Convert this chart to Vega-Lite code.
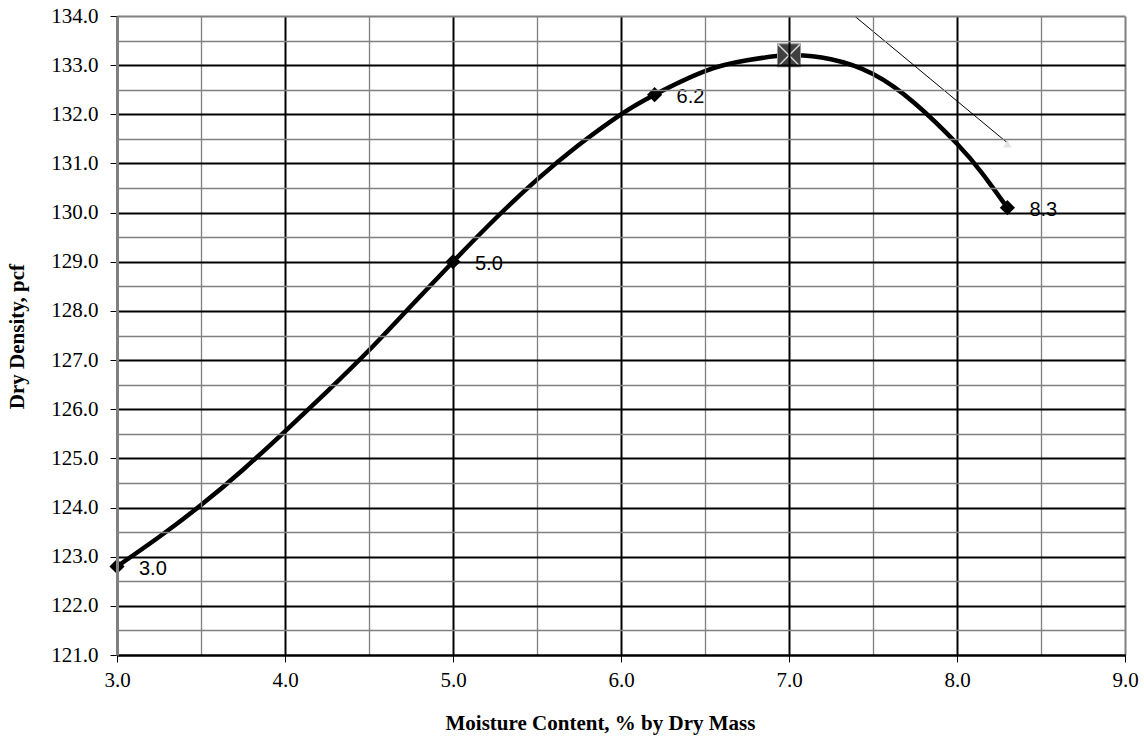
{
  "$schema": "https://vega.github.io/schema/vega-lite/v6.json",
  "width": 1008,
  "height": 639,
  "autosize": {"type": "none"},
  "padding": {"left": 117, "top": 16, "right": 19, "bottom": 83},
  "background": "white",
  "config": {"view": {"stroke": null}},
  "datasets": {
    "curve": [
      {"x": 3.0, "y": 122.8}, {"x": 3.25, "y": 123.4}, {"x": 3.5, "y": 124.05},
      {"x": 3.75, "y": 124.77}, {"x": 4.0, "y": 125.55}, {"x": 4.25, "y": 126.36},
      {"x": 4.5, "y": 127.2}, {"x": 4.75, "y": 128.1}, {"x": 5.0, "y": 129.0},
      {"x": 5.25, "y": 129.87}, {"x": 5.5, "y": 130.67}, {"x": 5.75, "y": 131.38},
      {"x": 6.0, "y": 132.0}, {"x": 6.2, "y": 132.4}, {"x": 6.5, "y": 132.88},
      {"x": 6.75, "y": 133.1}, {"x": 7.0, "y": 133.2}, {"x": 7.25, "y": 133.12},
      {"x": 7.5, "y": 132.82}, {"x": 7.75, "y": 132.22}, {"x": 8.0, "y": 131.4},
      {"x": 8.15, "y": 130.8}, {"x": 8.3, "y": 130.1}
    ],
    "tests": [
      {"x": 3.0, "y": 122.8}, {"x": 5.0, "y": 129.0}, {"x": 6.2, "y": 132.4}, {"x": 8.3, "y": 130.1}
    ],
    "peak": [{"x": 7.0, "y": 133.2}],
    "zav": [{"x": 7.39, "y": 134.0}, {"x": 8.3, "y": 131.42}],
    "zavEnd": [{"x": 8.3, "y": 131.4}]
  },
  "encoding": {
    "x": {
      "field": "x", "type": "quantitative",
      "scale": {"domain": [3, 9], "nice": false, "zero": false},
      "axis": {
        "values": [3, 3.5, 4, 4.5, 5, 5.5, 6, 6.5, 7, 7.5, 8, 8.5, 9],
        "format": ".1f",
        "labelExpr": "datum.value % 1 === 0 ? datum.label : ''",
        "labelOverlap": false,
        "labelFlush": false,
        "labelFont": "Liberation Serif",
        "labelFontSize": 21,
        "labelColor": "black",
        "labelPadding": 7,
        "tickSize": 7,
        "tickColor": "black",
        "tickWidth": 1,
        "tickOpacity": {"condition": {"test": "datum.value % 1 === 0", "value": 1}, "value": 0},
        "grid": true,
        "gridColor": {"condition": {"test": "datum.value % 1 === 0 && datum.value !== 9", "value": "black"}, "value": "#808080"},
        "gridWidth": {"condition": {"test": "datum.value % 1 === 0", "value": 2}, "value": 1.3},
        "gridOpacity": 1,
        "domain": true,
        "domainColor": "black",
        "domainWidth": 2,
        "zindex": 1,
        "title": "Moisture Content, % by Dry Mass",
        "titleFont": "Liberation Serif",
        "titleFontSize": 21,
        "titleFontWeight": "bold",
        "titleColor": "black",
        "titleX": 483,
        "titleY": 68,
        "titleAlign": "center",
        "titleBaseline": "middle"
      }
    },
    "y": {
      "field": "y", "type": "quantitative",
      "scale": {"domain": [121, 134], "nice": false, "zero": false},
      "axis": {
        "values": [121, 121.5, 122, 122.5, 123, 123.5, 124, 124.5, 125, 125.5, 126, 126.5, 127, 127.5, 128, 128.5, 129, 129.5, 130, 130.5, 131, 131.5, 132, 132.5, 133, 133.5, 134],
        "format": ".1f",
        "labelExpr": "datum.value % 1 === 0 ? datum.label : ''",
        "labelOverlap": false,
        "labelFlush": false,
        "labelFont": "Liberation Serif",
        "labelFontSize": 21,
        "labelColor": "black",
        "labelPadding": 12,
        "tickSize": 7,
        "tickColor": "black",
        "tickWidth": 1,
        "tickOpacity": {"condition": {"test": "datum.value % 1 === 0", "value": 1}, "value": 0},
        "grid": true,
        "gridColor": {"condition": {"test": "datum.value % 1 === 0 && datum.value !== 134", "value": "black"}, "value": "#808080"},
        "gridWidth": {"condition": {"test": "datum.value % 1 === 0", "value": 2}, "value": 1.3},
        "gridOpacity": 1,
        "domain": true,
        "domainColor": "#808080",
        "domainWidth": 3,
        "zindex": 1,
        "title": "Dry Density, pcf",
        "titleFont": "Liberation Serif",
        "titleFontSize": 21,
        "titleFontWeight": "bold",
        "titleColor": "black",
        "titleAngle": -90,
        "titleX": -100,
        "titleY": 320,
        "titleAlign": "center",
        "titleBaseline": "middle"
      }
    }
  },
  "layer": [
    {
      "data": {"name": "zav"},
      "mark": {"type": "line", "color": "black", "strokeWidth": 1, "clip": true}
    },
    {
      "data": {"name": "zavEnd"},
      "mark": {"type": "point", "shape": "triangle-up", "filled": true, "size": 70, "color": "#e4e4e4", "opacity": 1}
    },
    {
      "data": {"name": "curve"},
      "mark": {"type": "line", "color": "black", "strokeWidth": 4.5, "interpolate": "natural"}
    },
    {
      "data": {"name": "tests"},
      "mark": {"type": "point", "shape": "diamond", "filled": true, "size": 230, "color": "black", "opacity": 1}
    },
    {
      "data": {"name": "tests"},
      "mark": {"type": "text", "align": "left", "baseline": "middle", "dx": 22, "dy": 2, "font": "Liberation Sans", "fontSize": 20, "color": "black"},
      "encoding": {"text": {"field": "x", "type": "quantitative", "format": ".1f"}}
    },
    {
      "data": {"name": "peak"},
      "mark": {"type": "point", "shape": "square", "filled": true, "size": 529, "fill": "#404040", "stroke": "#9a9a9a", "strokeWidth": 1, "opacity": 1}
    },
    {
      "data": {"name": "peak"},
      "mark": {"type": "point", "shape": "M-1,-1L1,1M1,-1L-1,1", "filled": false, "size": 480, "stroke": "#d0d0d0", "strokeWidth": 1.5, "opacity": 1}
    }
  ]
}
